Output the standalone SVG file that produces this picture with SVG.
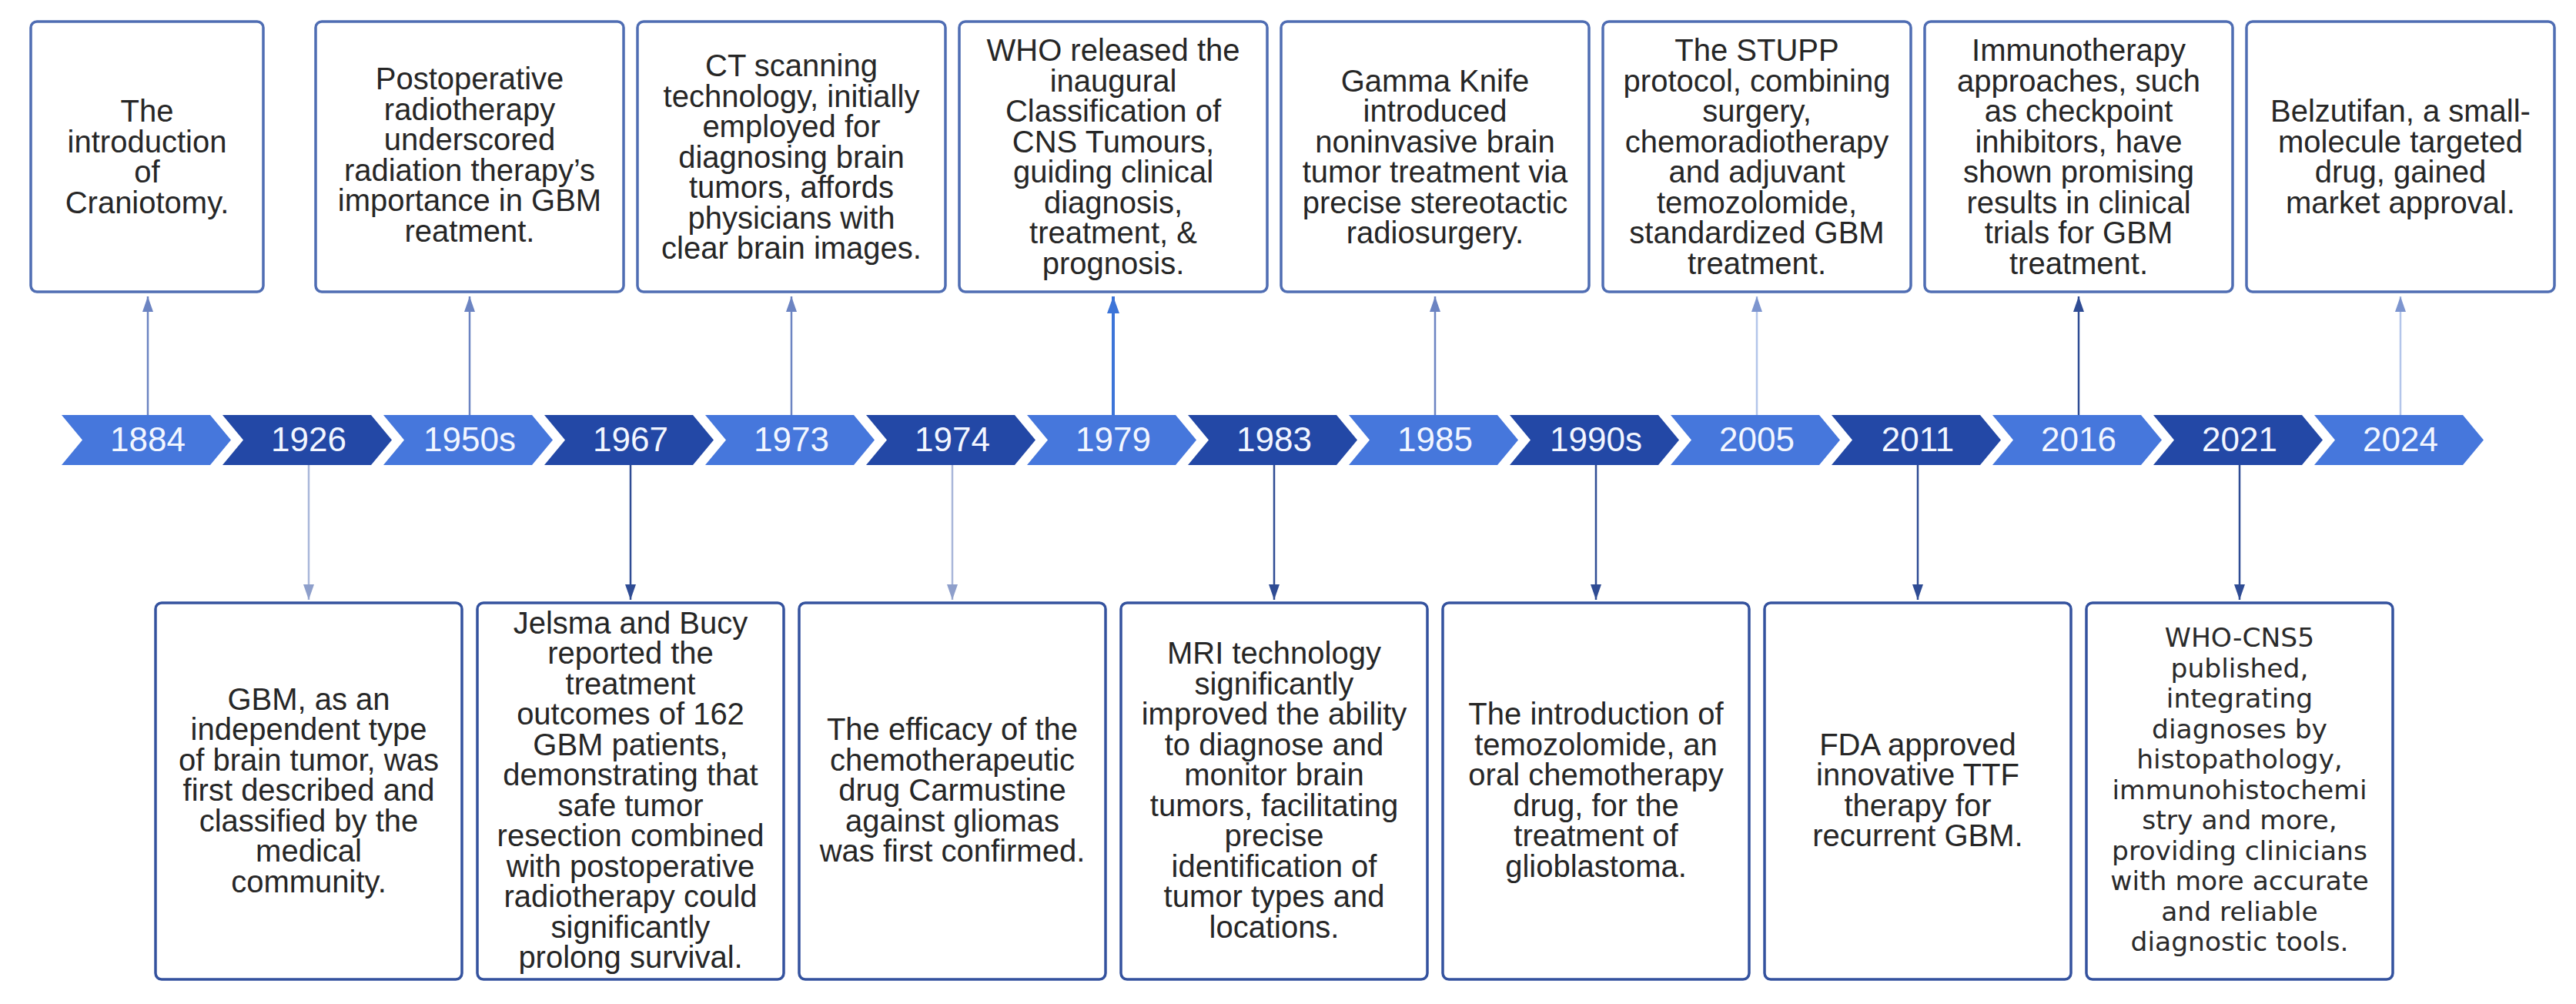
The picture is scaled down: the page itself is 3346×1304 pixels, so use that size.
<svg xmlns="http://www.w3.org/2000/svg" xmlns:xlink="http://www.w3.org/1999/xlink" width="3346" height="1304" viewBox="0 0 3346 1304">
<style>
.bg{fill:#ffffff}
.top{fill:#ffffff;stroke:#4f6db3;stroke-width:3.5}
.bot{fill:#ffffff;stroke:#34529e;stroke-width:3.5}
.t{font-family:"Liberation Sans",Arial,sans-serif;font-size:40px;fill:#262626;text-anchor:middle}
.w{font-family:"DejaVu Sans",Verdana,sans-serif;font-size:34.5px;fill:#2a2a2a;text-anchor:middle}
.yr{font-family:"Liberation Sans",Arial,sans-serif;font-size:44px;fill:#f2f6ff;text-anchor:middle}
.light{fill:#4677dc}
.dark{fill:#2348a6}
.c{fill:none;stroke-width:2.5}
.cm{stroke:#6c84c2}
.cl{stroke:#a9b7da}
.cd{stroke:#2f4c94}
.cb{stroke:#3c74d8;stroke-width:4}
.cp{stroke:#b3c5ea}
</style>
<defs>
<path id="chev" d="M0,0 H193 L220,32.5 L193,65 H0 L27,32.5 Z"/>
<marker id="am" markerUnits="userSpaceOnUse" markerWidth="20" markerHeight="14" refX="20" refY="7" orient="auto"><path d="M0,0 L20,7 L0,14 Z" fill="#6c84c2"/></marker>
<marker id="al" markerUnits="userSpaceOnUse" markerWidth="20" markerHeight="14" refX="20" refY="7" orient="auto"><path d="M0,0 L20,7 L0,14 Z" fill="#8e9fcb"/></marker>
<marker id="ad" markerUnits="userSpaceOnUse" markerWidth="20" markerHeight="14" refX="20" refY="7" orient="auto"><path d="M0,0 L20,7 L0,14 Z" fill="#2f4c94"/></marker>
<marker id="ab" markerUnits="userSpaceOnUse" markerWidth="22" markerHeight="16" refX="22" refY="8" orient="auto"><path d="M0,0 L22,8 L0,16 Z" fill="#3c74d8"/></marker>
<marker id="ap" markerUnits="userSpaceOnUse" markerWidth="20" markerHeight="14" refX="20" refY="7" orient="auto"><path d="M0,0 L20,7 L0,14 Z" fill="#7d95cf"/></marker>
</defs>
<rect class="bg" x="0" y="0" width="3346" height="1304"/>

<g id="timeline">
<use xlink:href="#chev" href="#chev" x="80" y="539" class="light"/>
<use xlink:href="#chev" href="#chev" x="289" y="539" class="dark"/>
<use xlink:href="#chev" href="#chev" x="498" y="539" class="light"/>
<use xlink:href="#chev" href="#chev" x="707" y="539" class="dark"/>
<use xlink:href="#chev" href="#chev" x="916" y="539" class="light"/>
<use xlink:href="#chev" href="#chev" x="1125" y="539" class="dark"/>
<use xlink:href="#chev" href="#chev" x="1334" y="539" class="light"/>
<use xlink:href="#chev" href="#chev" x="1543" y="539" class="dark"/>
<use xlink:href="#chev" href="#chev" x="1752" y="539" class="light"/>
<use xlink:href="#chev" href="#chev" x="1961" y="539" class="dark"/>
<use xlink:href="#chev" href="#chev" x="2170" y="539" class="light"/>
<use xlink:href="#chev" href="#chev" x="2379" y="539" class="dark"/>
<use xlink:href="#chev" href="#chev" x="2588" y="539" class="light"/>
<use xlink:href="#chev" href="#chev" x="2797" y="539" class="dark"/>
<use xlink:href="#chev" href="#chev" x="3006" y="539" class="light"/>
<text class="yr" x="192" y="586">1884</text>
<text class="yr" x="401" y="586">1926</text>
<text class="yr" x="610" y="586">1950s</text>
<text class="yr" x="819" y="586">1967</text>
<text class="yr" x="1028" y="586">1973</text>
<text class="yr" x="1237" y="586">1974</text>
<text class="yr" x="1446" y="586">1979</text>
<text class="yr" x="1655" y="586">1983</text>
<text class="yr" x="1864" y="586">1985</text>
<text class="yr" x="2073" y="586">1990s</text>
<text class="yr" x="2282" y="586">2005</text>
<text class="yr" x="2491" y="586">2011</text>
<text class="yr" x="2700" y="586">2016</text>
<text class="yr" x="2909" y="586">2021</text>
<text class="yr" x="3118" y="586">2024</text>
</g>

<g id="connectors">
<line class="c cm" x1="192" y1="539" x2="192" y2="385" marker-end="url(#am)"/>
<line class="c cl" x1="401" y1="604" x2="401" y2="779" marker-end="url(#al)"/>
<line class="c cm" x1="610" y1="539" x2="610" y2="385" marker-end="url(#am)"/>
<line class="c cd" x1="819" y1="604" x2="819" y2="779" marker-end="url(#ad)"/>
<line class="c cm" x1="1028" y1="539" x2="1028" y2="385" marker-end="url(#am)"/>
<line class="c cl" x1="1237" y1="604" x2="1237" y2="779" marker-end="url(#al)"/>
<line class="c cb" x1="1446" y1="539" x2="1446" y2="385" marker-end="url(#ab)"/>
<line class="c cd" x1="1655" y1="604" x2="1655" y2="779" marker-end="url(#ad)"/>
<line class="c cm" x1="1864" y1="539" x2="1864" y2="385" marker-end="url(#am)"/>
<line class="c cd" x1="2073" y1="604" x2="2073" y2="779" marker-end="url(#ad)"/>
<line class="c cp" x1="2282" y1="539" x2="2282" y2="385" marker-end="url(#ap)"/>
<line class="c cd" x1="2491" y1="604" x2="2491" y2="779" marker-end="url(#ad)"/>
<line class="c cd" x1="2700" y1="539" x2="2700" y2="385" marker-end="url(#ad)"/>
<line class="c cd" x1="2909" y1="604" x2="2909" y2="779" marker-end="url(#ad)"/>
<line class="c cp" x1="3118" y1="539" x2="3118" y2="385" marker-end="url(#ap)"/>
</g>

<g id="n1884">
<rect class="top" x="40" y="28" width="302" height="351" rx="8"/>
<text class="t" x="191" y="158"><tspan x="191">The</tspan><tspan x="191" dy="39.5">introduction</tspan><tspan x="191" dy="39.5">of</tspan><tspan x="191" dy="39.5">Craniotomy.</tspan></text>
</g>
<g id="n1950s">
<rect class="top" x="410" y="28" width="400" height="351" rx="8"/>
<text class="t" x="610" y="116"><tspan x="610">Postoperative</tspan><tspan x="610" dy="39.5">radiotherapy</tspan><tspan x="610" dy="39.5">underscored</tspan><tspan x="610" dy="39.5">radiation therapy’s</tspan><tspan x="610" dy="39.5">importance in GBM</tspan><tspan x="610" dy="39.5">reatment.</tspan></text>
</g>
<g id="n1973">
<rect class="top" x="828" y="28" width="400" height="351" rx="8"/>
<text class="t" x="1028" y="99"><tspan x="1028">CT scanning</tspan><tspan x="1028" dy="39.5">technology, initially</tspan><tspan x="1028" dy="39.5">employed for</tspan><tspan x="1028" dy="39.5">diagnosing brain</tspan><tspan x="1028" dy="39.5">tumors, affords</tspan><tspan x="1028" dy="39.5">physicians with</tspan><tspan x="1028" dy="39.5">clear brain images.</tspan></text>
</g>
<g id="n1979">
<rect class="top" x="1246" y="28" width="400" height="351" rx="8"/>
<text class="t" x="1446" y="79"><tspan x="1446">WHO released the</tspan><tspan x="1446" dy="39.5">inaugural</tspan><tspan x="1446" dy="39.5">Classification of</tspan><tspan x="1446" dy="39.5">CNS Tumours,</tspan><tspan x="1446" dy="39.5">guiding clinical</tspan><tspan x="1446" dy="39.5">diagnosis,</tspan><tspan x="1446" dy="39.5">treatment, &amp;</tspan><tspan x="1446" dy="39.5">prognosis.</tspan></text>
</g>
<g id="n1985">
<rect class="top" x="1664" y="28" width="400" height="351" rx="8"/>
<text class="t" x="1864" y="118.5"><tspan x="1864">Gamma Knife</tspan><tspan x="1864" dy="39.5">introduced</tspan><tspan x="1864" dy="39.5">noninvasive brain</tspan><tspan x="1864" dy="39.5">tumor treatment via</tspan><tspan x="1864" dy="39.5">precise stereotactic</tspan><tspan x="1864" dy="39.5">radiosurgery.</tspan></text>
</g>
<g id="n2005">
<rect class="top" x="2082" y="28" width="400" height="351" rx="8"/>
<text class="t" x="2282" y="79"><tspan x="2282">The STUPP</tspan><tspan x="2282" dy="39.5">protocol, combining</tspan><tspan x="2282" dy="39.5">surgery,</tspan><tspan x="2282" dy="39.5">chemoradiotherapy</tspan><tspan x="2282" dy="39.5">and adjuvant</tspan><tspan x="2282" dy="39.5">temozolomide,</tspan><tspan x="2282" dy="39.5">standardized GBM</tspan><tspan x="2282" dy="39.5">treatment.</tspan></text>
</g>
<g id="n2016">
<rect class="top" x="2500" y="28" width="400" height="351" rx="8"/>
<text class="t" x="2700" y="79"><tspan x="2700">Immunotherapy</tspan><tspan x="2700" dy="39.5">approaches, such</tspan><tspan x="2700" dy="39.5">as checkpoint</tspan><tspan x="2700" dy="39.5">inhibitors, have</tspan><tspan x="2700" dy="39.5">shown promising</tspan><tspan x="2700" dy="39.5">results in clinical</tspan><tspan x="2700" dy="39.5">trials for GBM</tspan><tspan x="2700" dy="39.5">treatment.</tspan></text>
</g>
<g id="n2024">
<rect class="top" x="2918" y="28" width="400" height="351" rx="8"/>
<text class="t" x="3118" y="158"><tspan x="3118">Belzutifan, a small-</tspan><tspan x="3118" dy="39.5">molecule targeted</tspan><tspan x="3118" dy="39.5">drug, gained</tspan><tspan x="3118" dy="39.5">market approval.</tspan></text>
</g>

<g id="n1926">
<rect class="bot" x="202" y="783" width="398" height="489" rx="8"/>
<text class="t" x="401" y="921.5"><tspan x="401">GBM, as an</tspan><tspan x="401" dy="39.5">independent type</tspan><tspan x="401" dy="39.5">of brain tumor, was</tspan><tspan x="401" dy="39.5">first described and</tspan><tspan x="401" dy="39.5">classified by the</tspan><tspan x="401" dy="39.5">medical</tspan><tspan x="401" dy="39.5">community.</tspan></text>
</g>
<g id="n1967">
<rect class="bot" x="620" y="783" width="398" height="489" rx="8"/>
<text class="t" x="819" y="822.5"><tspan x="819">Jelsma and Bucy</tspan><tspan x="819" dy="39.5">reported the</tspan><tspan x="819" dy="39.5">treatment</tspan><tspan x="819" dy="39.5">outcomes of 162</tspan><tspan x="819" dy="39.5">GBM patients,</tspan><tspan x="819" dy="39.5">demonstrating that</tspan><tspan x="819" dy="39.5">safe tumor</tspan><tspan x="819" dy="39.5">resection combined</tspan><tspan x="819" dy="39.5">with postoperative</tspan><tspan x="819" dy="39.5">radiotherapy could</tspan><tspan x="819" dy="39.5">significantly</tspan><tspan x="819" dy="39.5">prolong survival.</tspan></text>
</g>
<g id="n1974">
<rect class="bot" x="1038" y="783" width="398" height="489" rx="8"/>
<text class="t" x="1237" y="961"><tspan x="1237">The efficacy of the</tspan><tspan x="1237" dy="39.5">chemotherapeutic</tspan><tspan x="1237" dy="39.5">drug Carmustine</tspan><tspan x="1237" dy="39.5">against gliomas</tspan><tspan x="1237" dy="39.5">was first confirmed.</tspan></text>
</g>
<g id="n1983">
<rect class="bot" x="1456" y="783" width="398" height="489" rx="8"/>
<text class="t" x="1655" y="862"><tspan x="1655">MRI technology</tspan><tspan x="1655" dy="39.5">significantly</tspan><tspan x="1655" dy="39.5">improved the ability</tspan><tspan x="1655" dy="39.5">to diagnose and</tspan><tspan x="1655" dy="39.5">monitor brain</tspan><tspan x="1655" dy="39.5">tumors, facilitating</tspan><tspan x="1655" dy="39.5">precise</tspan><tspan x="1655" dy="39.5">identification of</tspan><tspan x="1655" dy="39.5">tumor types and</tspan><tspan x="1655" dy="39.5">locations.</tspan></text>
</g>
<g id="n1990s">
<rect class="bot" x="1874" y="783" width="398" height="489" rx="8"/>
<text class="t" x="2073" y="941"><tspan x="2073">The introduction of</tspan><tspan x="2073" dy="39.5">temozolomide, an</tspan><tspan x="2073" dy="39.5">oral chemotherapy</tspan><tspan x="2073" dy="39.5">drug, for the</tspan><tspan x="2073" dy="39.5">treatment of</tspan><tspan x="2073" dy="39.5">glioblastoma.</tspan></text>
</g>
<g id="n2011">
<rect class="bot" x="2292" y="783" width="398" height="489" rx="8"/>
<text class="t" x="2491" y="980.5"><tspan x="2491">FDA approved</tspan><tspan x="2491" dy="39.5">innovative TTF</tspan><tspan x="2491" dy="39.5">therapy for</tspan><tspan x="2491" dy="39.5">recurrent GBM.</tspan></text>
</g>
<g id="n2021">
<rect class="bot" x="2710" y="783" width="398" height="489" rx="8"/>
<text class="w" x="2909" y="840"><tspan x="2909">WHO-CNS5</tspan><tspan x="2909" dy="39.5">published,</tspan><tspan x="2909" dy="39.5">integrating</tspan><tspan x="2909" dy="39.5">diagnoses by</tspan><tspan x="2909" dy="39.5">histopathology,</tspan><tspan x="2909" dy="39.5">immunohistochemi</tspan><tspan x="2909" dy="39.5">stry and more,</tspan><tspan x="2909" dy="39.5">providing clinicians</tspan><tspan x="2909" dy="39.5">with more accurate</tspan><tspan x="2909" dy="39.5">and reliable</tspan><tspan x="2909" dy="39.5">diagnostic tools.</tspan></text>
</g>
</svg>
